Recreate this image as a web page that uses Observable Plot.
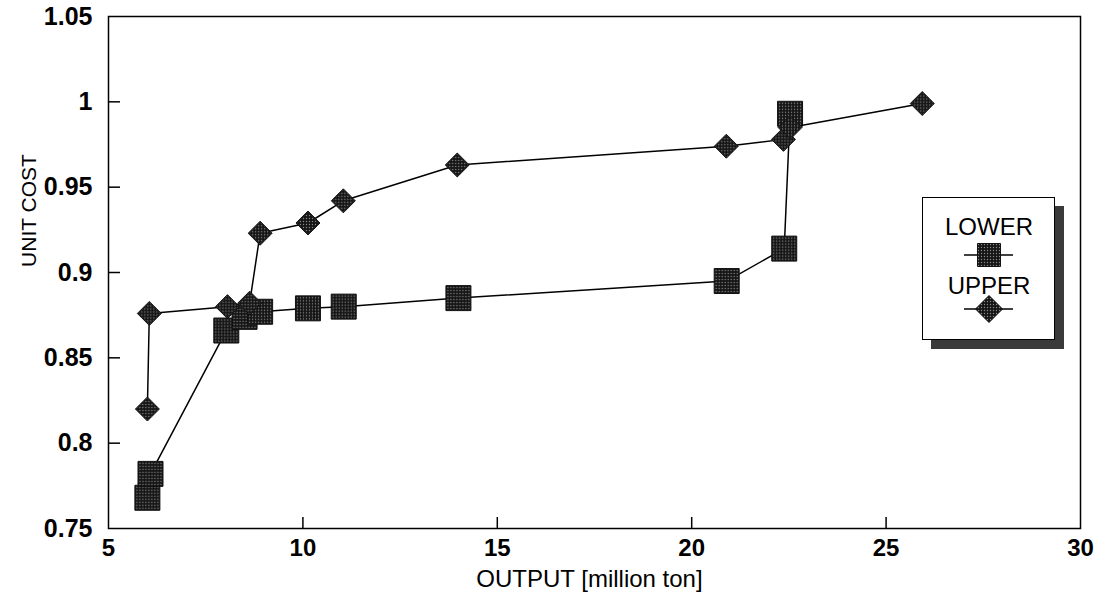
<!DOCTYPE html>
<html><head><meta charset="utf-8">
<script src="https://cdn.jsdelivr.net/npm/d3@7"></script>
<script src="https://cdn.jsdelivr.net/npm/@observablehq/plot@0.6"></script>
<style>
body{margin:0;background:#fff;font-family:"Liberation Sans",Arial,sans-serif;}
#wrap{position:relative;width:1103px;height:603px;}
#legend{position:absolute;left:922px;top:197px;width:131px;height:141px;border:1px solid #000;background:#fff;box-shadow:9px 9px 0 #3a3a3a;}
#legend svg{position:absolute;left:0;top:0;}
</style></head><body><div id="wrap"><div id="legend"></div></div>
<script>
// Data
const seriesNames = ["LOWER", "UPPER"];
const lowerX = [6.0, 6.08, 8.03, 8.5, 8.9, 10.13, 11.05, 14.0, 20.9, 22.38, 22.53];
const lowerY = [0.768, 0.782, 0.866, 0.874, 0.877, 0.879, 0.880, 0.885, 0.895, 0.914, 0.993];
const upperX = [6.0, 6.05, 8.06, 8.63, 8.9, 10.13, 11.04, 13.97, 20.89, 22.36, 22.53, 25.93];
const upperY = [0.820, 0.876, 0.880, 0.882, 0.923, 0.929, 0.942, 0.963, 0.974, 0.978, 0.985, 0.999];
const xTickLabels = [5, 10, 15, 20, 25, 30];
const yTickLabels = [0.75, 0.8, 0.85, 0.9, 0.95, 1, 1.05];
const xInnerTicks = [10, 15, 20, 25];
const yInnerTicks = [0.8, 0.85, 0.9, 0.95, 1];
const xLabel = "OUTPUT [million ton]";
const yLabel = "UNIT COST";

const lower = lowerX.map((x, i) => ({x, y: lowerY[i]}));
const upper = upperX.map((x, i) => ({x, y: upperY[i]}));

const W = 1103, H = 603;
const mL = 108, mR = 23, mT = 16, mB = 75;
const innerW = W - mL - mR, innerH = H - mT - mB;

const chart = Plot.plot({
  width: W, height: H,
  marginLeft: mL, marginRight: mR, marginTop: mT, marginBottom: mB,
  style: {fontFamily: '"Liberation Sans", Arial, sans-serif', fontSize: "22px", color: "#000", background: "#fff"},
  x: {domain: [5, 30]},
  y: {domain: [0.75, 1.05]},
  marks: [
    Plot.frame({stroke: "#000", strokeWidth: 1.5}),
    Plot.tickX(xInnerTicks, {x: d => d, stroke: "#000", strokeWidth: 1.5, insetTop: innerH - 11}),
    Plot.tickY(yInnerTicks, {y: d => d, stroke: "#000", strokeWidth: 1.5, insetRight: innerW - 12}),
    Plot.axisX({ticks: xTickLabels, tickSize: 0, tickPadding: 10, tickFormat: d => String(d), label: null, fontSize: 24, fontWeight: "bold"}),
    Plot.axisY({ticks: yTickLabels, tickSize: 0, tickPadding: 16, tickFormat: d => String(+d.toFixed(2)), label: null, fontSize: 25, fontWeight: "bold"}),
    Plot.text([xLabel], {frameAnchor: "bottom", textAnchor: "middle", dx: -5, dy: 58, text: d => d, fontSize: 24}),
    Plot.text([yLabel], {frameAnchor: "left", textAnchor: "middle", dx: -79, dy: -62, rotate: -90, text: d => d, fontSize: 21}),
    Plot.line(lower, {x: "x", y: "y", stroke: "#000", strokeWidth: 1.5}),
    Plot.dot(lower, {x: "x", y: "y", symbol: "square", r: 14.1, fill: "url(#ht)", stroke: "#111", strokeWidth: 1}),
    Plot.line(upper, {x: "x", y: "y", stroke: "#000", strokeWidth: 1.5}),
    Plot.dot(upper, {x: "x", y: "y", symbol: "diamond2", r: 10.8, fill: "url(#ht)", stroke: "#111", strokeWidth: 1})
  ]
});

const pat = `<defs><pattern id="PID" width="3" height="3" patternUnits="userSpaceOnUse">
<rect width="3" height="3" fill="#151515"/><circle cx="1.5" cy="1.5" r="0.7" fill="#8a8a8a"/></pattern></defs>`;
chart.insertAdjacentHTML("afterbegin", pat.replace("PID", "ht"));
document.getElementById("wrap").prepend(chart);

// Legend (drawn inside the plot area like the reference)
const lg = d3.select("#legend").append("svg").attr("width", 131).attr("height", 141);
lg.html(pat.replace("PID", "ht2"));
const font = '"Liberation Sans", Arial, sans-serif';
const rows = [
  {name: seriesNames[0], ty: 37, sy: 57, sym: d3.symbolSquare, size: 23 * 23},
  {name: seriesNames[1], ty: 96, sy: 111, sym: d3.symbolDiamond2, size: Math.pow(27 / 2 / 0.62625, 2)}
];
rows.forEach(r => {
  lg.append("text").attr("x", 66).attr("y", r.ty).attr("text-anchor", "middle")
    .attr("font-family", font).attr("font-size", 24).text(r.name);
  lg.append("line").attr("x1", 41).attr("x2", 90).attr("y1", r.sy).attr("y2", r.sy)
    .attr("stroke", "#000").attr("stroke-width", 1.5);
  lg.append("path").attr("transform", `translate(66,${r.sy})`)
    .attr("d", d3.symbol(r.sym, r.size)()).attr("fill", "url(#ht2)").attr("stroke", "#111");
});
</script>
</body></html>
